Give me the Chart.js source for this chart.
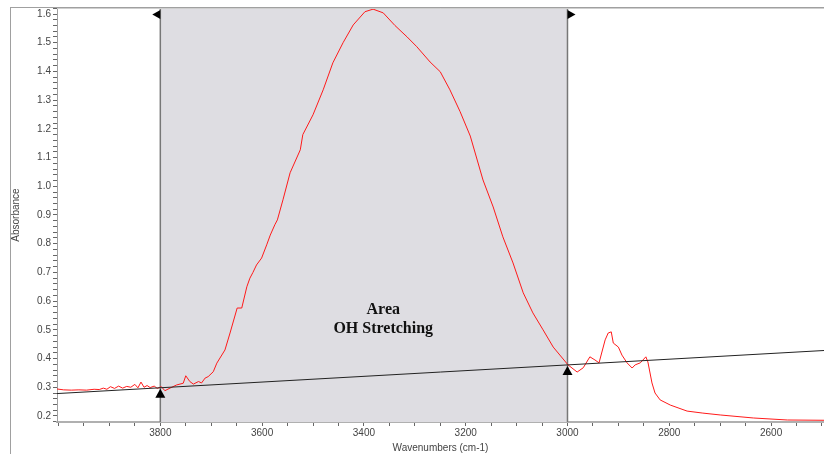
<!DOCTYPE html>
<html>
<head>
<meta charset="utf-8">
<script src="https://cdn.jsdelivr.net/npm/chart.js@4.4.1/dist/chart.umd.min.js"></script>
<style>
  html, body { margin: 0; padding: 0; background: #fff; }
  #wrap { width: 824px; height: 454px; }
</style>
</head>
<body>
<div id="wrap"><canvas id="spectrum" width="824" height="454"></canvas></div>
<script>
// spectrum (cm-1, absorbance)
const wavenumbers = [
    4003, 3990, 3975, 3960, 3945, 3930, 3920, 3912, 3905, 3898, 3890, 3882, 3874, 3866, 3858,
    3850, 3844, 3838, 3832, 3826, 3820, 3812, 3806, 3798, 3791, 3781, 3768, 3755, 3750, 3742,
    3735, 3725, 3719, 3712, 3706, 3696, 3689, 3673, 3663, 3649, 3640, 3630, 3624, 3618, 3611,
    3601, 3591, 3584, 3575, 3570, 3559, 3545, 3525, 3520, 3500, 3480, 3461, 3441, 3421, 3398,
    3382, 3362, 3339, 3315, 3296, 3270, 3250, 3231, 3211, 3191, 3166, 3146, 3127, 3107, 3087,
    3068, 3048, 3028, 2999, 2981, 2969, 2956, 2946, 2938, 2926, 2920, 2914, 2910, 2900, 2893,
    2883, 2873, 2867, 2857, 2846, 2842, 2834, 2828, 2818, 2798, 2765, 2734, 2700, 2635, 2568, 2496
];
const absorbance = [
    0.294, 0.291, 0.290, 0.291, 0.290, 0.293, 0.292, 0.297, 0.293, 0.302, 0.296, 0.304, 0.297, 0.303, 0.300,
    0.310, 0.298, 0.318, 0.300, 0.306, 0.299, 0.304, 0.296, 0.302, 0.288, 0.297, 0.308, 0.314, 0.340, 0.320,
    0.311, 0.320, 0.315, 0.332, 0.337, 0.354, 0.384, 0.430, 0.489, 0.576, 0.576, 0.650, 0.680, 0.700, 0.726,
    0.750, 0.796, 0.830, 0.866, 0.883, 0.953, 1.047, 1.127, 1.180, 1.249, 1.336, 1.430, 1.500, 1.562, 1.608,
    1.617, 1.604, 1.560, 1.520, 1.486, 1.433, 1.399, 1.336, 1.260, 1.175, 1.022, 0.928, 0.824, 0.733, 0.629,
    0.559, 0.500, 0.440, 0.378, 0.353, 0.368, 0.406, 0.395, 0.385, 0.465, 0.489, 0.493, 0.454, 0.440, 0.412,
    0.385, 0.367, 0.378, 0.385, 0.406, 0.388, 0.315, 0.280, 0.256, 0.238, 0.217, 0.210, 0.2035, 0.193, 0.186, 0.185
];

// baseline under the OH band
const baselineX = [4003, 2496];
const baselineY = [0.278, 0.428];

// integration region and its label
const areaBounds = [3800, 3000];
const areaLabel = ['Area', 'OH Stretching'];
const areaLabelPos = [3362, 0.569, 0.503];

// axes
const xRange = [2496, 4003];
const yRange = [0.179, 1.621];
const xMinorStep = 50;
const xTickLabels = [3800, 3600, 3400, 3200, 3000, 2800, 2600];
const yMinorStep = 0.02, yLabelStep = 0.1;

const shadePlugin = {
    id: 'shade',
    beforeDatasetsDraw(chart) {
        const { ctx, chartArea: a, scales: { x } } = chart;
        const x1 = x.getPixelForValue(areaBounds[0]);
        const x2 = x.getPixelForValue(areaBounds[1]);
        ctx.save();
        ctx.fillStyle = '#dedde2';
        ctx.fillRect(x1, a.top, x2 - x1, a.bottom - a.top);
        ctx.strokeStyle = '#777';
        ctx.lineWidth = 1.5;
        [x1, x2].forEach(px => {
            ctx.beginPath();
            ctx.moveTo(px, a.top);
            ctx.lineTo(px, a.bottom);
            ctx.stroke();
        });
        ctx.restore();
    },
    afterDatasetsDraw(chart) {
        const { ctx, chartArea: a, scales: { x, y } } = chart;
        const x1 = x.getPixelForValue(areaBounds[0]);
        const x2 = x.getPixelForValue(areaBounds[1]);
        ctx.save();
        ctx.fillStyle = '#000';

        // range handles at the top
        ctx.beginPath();
        ctx.moveTo(x1, a.top + 2); ctx.lineTo(x1, a.top + 11); ctx.lineTo(x1 - 8, a.top + 6.5);
        ctx.fill();
        ctx.beginPath();
        ctx.moveTo(x2, a.top + 2); ctx.lineTo(x2, a.top + 11); ctx.lineTo(x2 + 8, a.top + 6.5);
        ctx.fill();

        // baseline anchors
        const slope = (baselineY[1] - baselineY[0]) / (baselineX[1] - baselineX[0]);
        areaBounds.forEach(w => {
            const px = x.getPixelForValue(w);
            const py = y.getPixelForValue(baselineY[0] + (w - baselineX[0]) * slope);
            ctx.beginPath();
            ctx.moveTo(px, py + 1); ctx.lineTo(px - 5, py + 10); ctx.lineTo(px + 5, py + 10);
            ctx.fill();
        });

        // label
        ctx.font = 'bold 16px "Liberation Serif", "Times New Roman", serif';
        ctx.textAlign = 'center';
        ctx.textBaseline = 'middle';
        ctx.fillStyle = '#111';
        const lx = x.getPixelForValue(areaLabelPos[0]);
        ctx.fillText(areaLabel[0], lx, y.getPixelForValue(areaLabelPos[1]));
        ctx.fillText(areaLabel[1], lx, y.getPixelForValue(areaLabelPos[2]));

        // outer frame
        ctx.lineWidth = 1;
        ctx.strokeStyle = '#a0a0a0';
        ctx.beginPath();
        ctx.moveTo(10.5, a.top - 1); ctx.lineTo(10.5, chart.height);
        ctx.moveTo(10, a.top - 0.5); ctx.lineTo(chart.width, a.top - 0.5);
        ctx.stroke();
        ctx.strokeStyle = '#cfcfcf';
        ctx.beginPath();
        ctx.moveTo(a.left, a.top + 0.5); ctx.lineTo(chart.width, a.top + 0.5);
        ctx.stroke();
        ctx.restore();
    }
};

const tickFont = { family: '"Liberation Sans", Arial, sans-serif', size: 10 };

new Chart(document.getElementById('spectrum'), {
    type: 'line',
    data: {
        datasets: [
            {
                label: 'Baseline',
                data: baselineX.map((w, i) => ({ x: w, y: baselineY[i] })),
                borderColor: '#222',
                borderWidth: 1,
                pointRadius: 0
            },
            {
                label: 'Spectrum',
                data: wavenumbers.map((w, i) => ({ x: w, y: absorbance[i] })),
                borderColor: '#ff1a1a',
                borderWidth: 1,
                pointRadius: 0,
                tension: 0
            }
        ]
    },
    options: {
        responsive: false,
        animation: false,
        events: [],
        layout: { padding: { top: 8, left: 0, right: 0, bottom: 0 } },
        plugins: { legend: { display: false }, tooltip: { enabled: false } },
        scales: {
            x: {
                type: 'linear',
                reverse: true,
                min: xRange[0],
                max: xRange[1],
                afterBuildTicks(scale) {
                    const ticks = [];
                    for (let v = Math.ceil(xRange[0] / xMinorStep) * xMinorStep; v <= xRange[1]; v += xMinorStep) {
                        ticks.push({ value: v });
                    }
                    scale.ticks = ticks;
                },
                afterFit(scale) { scale.height = 32; },
                ticks: {
                    autoSkip: false,
                    maxRotation: 0,
                    padding: 1,
                    color: '#444',
                    font: tickFont,
                    callback: v => (xTickLabels.includes(v) ? String(v) : '')
                },
                grid: { drawOnChartArea: false, tickLength: 4, tickColor: '#666' },
                border: { color: '#b0b0b0', width: 2 },
                title: {
                    display: true,
                    text: 'Wavenumbers (cm-1)',
                    color: '#444',
                    font: tickFont,
                    padding: { top: 0, bottom: 0 }
                }
            },
            y: {
                min: yRange[0],
                max: yRange[1],
                afterBuildTicks(scale) {
                    const ticks = [];
                    const n0 = Math.ceil(yRange[0] / yMinorStep), n1 = Math.floor(yRange[1] / yMinorStep);
                    for (let n = n0; n <= n1; n++) ticks.push({ value: +(n * yMinorStep).toFixed(2) });
                    scale.ticks = ticks;
                },
                afterFit(scale) { scale.width = 57; },
                ticks: {
                    autoSkip: false,
                    padding: 2,
                    color: '#444',
                    font: tickFont,
                    callback: v => {
                        const k = v / yLabelStep;
                        return Math.abs(k - Math.round(k)) < 1e-6 ? v.toFixed(1) : '';
                    }
                },
                grid: { drawOnChartArea: false, tickLength: 4, tickColor: '#666' },
                border: { color: '#a0a0a0', width: 1 },
                title: {
                    display: true,
                    text: 'Absorbance',
                    color: '#444',
                    font: tickFont,
                    padding: { top: 10, bottom: 0 }
                }
            }
        }
    },
    plugins: [shadePlugin]
});
</script>
</body>
</html>
